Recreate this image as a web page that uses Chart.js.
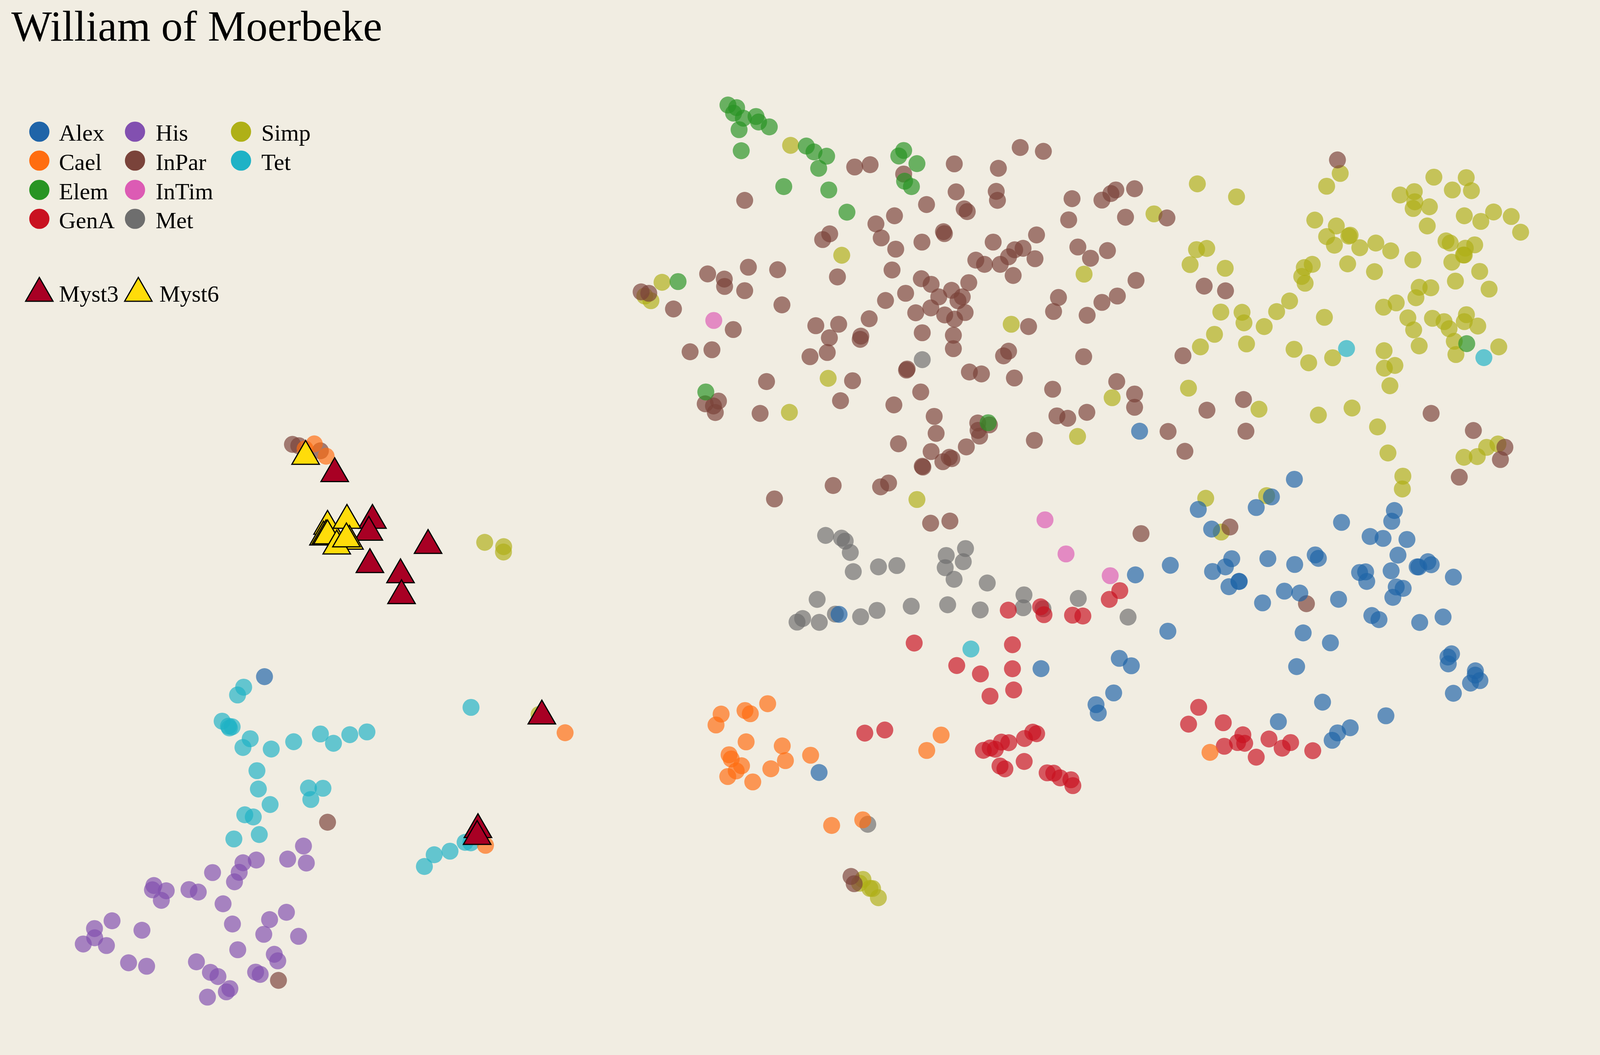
<!DOCTYPE html>
<html>
<head>
<meta charset="utf-8">
<title>William of Moerbeke</title>
<script src="https://cdn.jsdelivr.net/npm/chart.js@4"></script>
<style>
  html, body { margin: 0; padding: 0; background: #f1ede2; overflow: hidden; }
  canvas { display: block; }
</style>
</head>
<body>
<canvas id="chart"></canvas>
<script>
'use strict';

const Alex = [[1116.8,360.5],[1268.5,400.7],[1174.3,425.9],[1246,415.4],[1231.1,424.3],[1187.4,442.3],[1314.7,436.7],[1366.5,426.8],[1363.9,435.8],[1342.7,448.5],[1355.4,450.1],[1378.8,451],[1370,464.1],[1146.9,472.6],[1207.1,467.1],[1200.9,473.9],[1188.3,477.8],[1242.5,467],[1268.8,471.9],[1288.9,463.9],[1292,466.8],[1214.1,486.1],[1214.5,486.1],[1204.4,490.5],[1237.3,504],[1258.7,494.2],[1273.8,495.8],[1311.8,501],[1332.4,478.6],[1338.3,478.1],[1339.4,486.1],[1363.3,477.2],[1368.3,490.7],[1375.1,491.9],[1365,499.4],[1388.8,473.9],[1390.4,474],[1399.3,469.6],[1402.6,472.1],[1424.3,482.5],[1344.4,514.6],[1351.4,518],[1391.3,520.4],[1414.2,515.8],[1144.5,527.7],[1277.1,529.1],[1303.8,537.4],[1422.5,546.6],[1419,549.3],[1419.3,555],[1270.7,557.3],[1445.9,560.8],[1445.7,564.4],[1450.3,569],[1441.1,571.1],[1424.3,579.6],[1296.1,587],[1358.2,598.4],[1252.8,603.3],[1323.2,608.4],[1310.8,612.7],[1305.5,618.9],[1112.7,480.6],[1096.9,550.4],[1108.7,556.6],[1020.2,559],[1091.4,579.3],[1074.1,589.1],[1076.3,596.1],[802.7,645.8],[822.3,513.6],[259.2,565.7]];
const Cael = [[308,371.1],[319.6,381.4],[299,375.3],[752.3,588.3],[730.1,594],[735.3,596.7],[706.7,597],[701.7,606.1],[731.2,620.2],[766.6,623.6],[769.7,635.9],[794.4,631.4],[714.5,631],[716.6,634.5],[726.7,640.2],[721.5,644.5],[713.2,649.2],[737.7,653.7],[755.4,642.7],[815,690.1],[845.5,685.4],[922.3,614.5],[908.2,627.4],[1185.8,629],[553.8,612.6],[475.8,706.7]];
const Elem = [[713.4,87.8],[721.9,90],[718.9,94.6],[728.5,98.8],[740.9,97.4],[743.4,102],[753.9,106.1],[724.3,108.4],[726.4,126],[790.2,122.1],[797.7,127],[810.1,130.6],[802.3,140.7],[768.1,156],[812.2,158.8],[830,177.4],[885.6,125.8],[880.8,130.4],[898.6,136.8],[886.5,151.5],[893.2,156],[664.5,235.4],[691.7,327.7],[968.4,353.4],[1437.4,287.3]];
const GenA = [[988.1,510.1],[1019.8,507.3],[1023.1,513.9],[1051.1,514.3],[1061.2,515],[1087.1,501.1],[1097.4,493.8],[895.9,537.6],[992.2,539],[937.6,556.4],[960.8,563.4],[992.2,559.1],[993.4,576.8],[970.2,582],[847.5,612.9],[867.1,610.3],[963.7,627.3],[970.4,625.3],[975.4,626.4],[981.4,620.4],[988.6,620.9],[1004,617.4],[1012.1,612.1],[1015.9,613.4],[980,640.4],[984.8,642.8],[1003.7,636.6],[1026.2,646.1],[1032.7,646.4],[1038.9,650.3],[1049.5,651.9],[1051.4,656.8],[1174.7,591.3],[1164.8,605.4],[1198.8,604.2],[1199.8,623.9],[1212.8,620.8],[1218,614.3],[1219.8,621.4],[1231.1,633],[1243.6,617.8],[1256.5,625.5],[1264.8,620.8],[1286.5,627.6]];
const His = [[297.4,707.3],[281.9,718.2],[300.2,721.5],[251.2,719],[238.1,721.3],[234.4,729.3],[229.8,737.2],[208.3,729.5],[150.8,740.3],[149.4,743.9],[162.9,744.7],[158.1,752.7],[185.2,743.7],[194.3,745.8],[218.6,755.6],[227.8,772.5],[280.7,762.7],[264.2,768.8],[258.5,781.1],[292.6,782.8],[139.1,777.7],[109.8,769.8],[92.6,776.3],[92.8,784],[81.6,789.2],[104.3,790.5],[126,804.9],[143.7,807.8],[192.5,804.1],[206.2,812.9],[213.6,816.4],[233,794],[268.8,797.8],[272.2,803.3],[250.5,812.7],[255,814.6],[225.3,826.5],[221.8,829.2],[203.3,833.6]];
const InPar = [[999.8,123.3],[1022.5,126.5],[837.6,139.6],[852.7,137.7],[935.2,137],[978.4,140.7],[885.6,145.5],[729.8,167.5],[937,160.4],[976.3,160],[977.5,167.5],[1050.6,166.1],[1079.9,167.3],[1088.7,161.8],[1093.5,158.8],[908,171],[944.9,174.6],[947.9,176.9],[876.6,180.4],[858.4,187.2],[1047.3,183.8],[813.1,195.5],[806.2,200.3],[863.6,198.9],[877.8,208.3],[903.5,202.4],[924.6,193.7],[925.5,195.3],[973.3,202.4],[1015.8,196.4],[1056.3,206.5],[1068.7,215.9],[1085.3,209.5],[1002.6,207.6],[994.4,208.8],[988.4,214.7],[980.2,221],[964.8,221],[956.3,217.5],[1014.3,216.3],[693.5,229],[709.8,233.3],[710.1,239.5],[733.4,223.4],[762.1,225.5],[729.8,243],[820.7,231.5],[874.2,225.7],[902.9,233],[912.5,237.7],[920,248.2],[932.5,242.7],[949.4,236.3],[943,248.2],[938.8,251.4],[945.8,261.3],[912.2,257.4],[897.4,261.5],[925.8,263.3],[935.5,266.8],[903.8,278.2],[934.3,280.3],[934.3,291.5],[887.5,245.2],[867.8,251.2],[992.9,230.3],[1037.3,248.7],[1079.9,252.8],[1095,247.5],[660,258.3],[628.3,244],[635.8,245.2],[766.3,254.9],[851.8,266.5],[1032.5,260.4],[1065.4,263.6],[1008,273],[799.5,272.3],[821.9,271.1],[843.6,281],[843,283.7],[718.6,275.5],[676.3,294.1],[697.7,292.4],[793.8,298.2],[812.8,282.4],[810.7,294.7],[988.4,293.6],[983.5,297.5],[1062,298.2],[889,308.5],[888.4,309.4],[950,311],[961.8,312.6],[994.1,316],[751.2,319],[835.5,318.3],[1031.6,325.4],[1094.4,319],[902.3,327.7],[823.7,335],[876,338.5],[691.1,337.6],[704.1,335.3],[699.2,339.4],[701,344.9],[744.9,345.6],[915.5,348.1],[958.2,353.6],[958.5,359.8],[960,364.6],[969.6,355.2],[917.4,362.3],[1035.8,347.7],[1046.4,349.7],[1065.1,344.7],[1013.7,368.1],[880.5,371],[912.5,377.5],[947,373.6],[924,386],[930.3,382.3],[932.8,383.4],[903.8,389.8],[904.4,390.5],[816.5,405.9],[863,407],[870.8,403.8],[759,417.1],[1310.7,133.7],[1111.9,157.8],[1103,181.6],[1143.6,182.2],[1113.3,234.4],[1180.1,239.2],[1201,243.1],[1159.3,297.4],[1111.9,329.4],[1111.9,340.5],[1182.8,342.9],[1218.6,334],[1221,360.5],[1144.7,360.7],[1161.2,377.3],[1402.5,345.6],[1443.9,359.9],[1474.8,373.9],[1470.4,384.2],[1430.1,398.9],[912,437.4],[930.9,435.6],[1118.2,446.1],[1205.3,440.6],[1280.3,504.7],[321,687.4],[272.9,819.6],[286.6,371.5],[292.8,372.6],[314,376.9],[834,732.7],[837.1,738.8]];
const InTim = [[699.5,267.9],[1024.1,434.6],[1044.7,463.1],[1088,481.3]];
const Met = [[903.8,300.7],[809.1,447.6],[824.7,449.9],[828.3,452.4],[833.3,461.9],[836.2,477.9],[860.9,473.9],[878.9,472.8],[927.3,464.4],[946.2,458.6],[944,469.6],[926.3,474.6],[935,484.3],[967.5,487.4],[800.8,501.1],[786.6,517.1],[781.1,520.1],[802.9,520.3],[818.7,513.4],[843.4,515.6],[859.5,510.3],[893,506.8],[928.7,505.6],[960.6,509.9],[1003.5,497.3],[1002.7,508.1],[1022.1,508.9],[1056.7,500.3],[1105.5,515.9],[850.4,689.1]];
const Simp = [[1173.4,153.7],[1211.8,164.6],[1130.9,178.8],[1313.4,145],[1300.1,155.7],[1405.2,148.1],[1436.9,148.5],[1423.3,158.8],[1442,159.4],[1372.1,163],[1386,160.2],[1386.5,168.7],[1384.9,174.3],[1400.8,172.9],[1398.7,188.9],[1288.5,184],[1309.6,188.9],[1300.1,197.8],[1307.7,205],[1321.8,197.4],[1323.1,196.6],[1332.6,207.1],[1348.3,203.2],[1362.9,209.7],[1320.7,220.6],[1347,227.1],[1384.6,217.2],[1435,180.4],[1451.2,185.1],[1463.7,177.2],[1481,181],[1490.2,194.1],[1417.1,201.4],[1421.2,203.2],[1445.2,204.7],[1436,207.5],[1435,213.2],[1434.2,213.2],[1422.8,219.2],[1450.1,226.9],[1426.3,235],[1459.3,241.7],[1172.6,208.7],[1182.6,207.7],[1166.3,221.2],[1200.7,224.3],[1286,221],[1278.2,223.7],[1275.7,231.1],[1279,236.8],[1263.8,251.6],[1251.1,260.5],[1238.9,273],[1297.9,265.3],[1196.4,260.9],[1217.2,261.1],[1219.1,269.9],[1190.2,279.5],[1176.4,290],[1221.6,287.5],[1268.2,292],[1282.5,303.3],[1306,299.1],[1390.8,240.2],[1402.2,240.6],[1387.6,248.9],[1355.9,256.8],[1368.3,253.2],[1379.7,265.7],[1385.4,275.8],[1390.8,289.2],[1403.8,266.1],[1415.2,268.9],[1420.1,274.8],[1425.2,285.3],[1426.8,296.4],[1437.1,263.1],[1435,268.9],[1448.2,272.6],[1468.8,290],[1356.4,293.2],[1367,305.5],[1356.7,307.8],[1362.1,322.5],[1164.7,324.5],[1233.8,342.1],[1292,347],[1325,341.1],[1350,356.9],[1360.2,378.7],[1374.8,398.1],[1374.3,408.8],[1434.7,382.3],[1447.7,381.7],[1456.9,374],[1468,371.2],[1241.3,414.4],[1181.6,416.6],[1196.8,444.8],[774.8,121.5],[824.9,213.4],[648.8,236],[631.9,247.5],[637.9,251.4],[1062.4,229.2],[991,271.1],[811.6,316.3],[773.6,344.7],[1056,364.9],[1089.9,332.5],[898.6,417.6],[475,453.4],[493.6,457],[493.4,461.5],[845.7,735.2],[842.4,738.4],[852.5,742.7],[855.1,742.8],[860.8,750.5],[528.3,597.3]];
const Tet = [[1319.6,291.4],[1454.2,299],[951.5,542.6],[461.6,591.4],[238.8,574.5],[232.8,581],[217.7,602.9],[223.9,607.1],[224.8,608.6],[227.5,607.6],[245.2,617.6],[238.1,624.9],[265.8,626.2],[287.8,620.1],[314,613.6],[326.8,621.4],[342.8,614.2],[359.6,611.9],[251.8,644.3],[253.2,659.6],[302.3,658.8],[316.5,659],[304.6,668.4],[264.7,672.6],[239.9,681.2],[248.2,683],[254.1,697.7],[229.2,701.4],[415.9,724.4],[425.5,714.6],[441,711.6],[455.8,704.2],[461.4,704.6]];
const Myst3 = [[328,396],[365,435],[361.5,445],[419.5,456],[362.5,472],[392.5,480.5],[393.5,498],[531,598.6],[468.4,693.6],[467.6,699.3]];
const Myst6 = [[299.5,381.5],[321,440],[340,435],[317,449],[319.5,448],[321,448],[342.5,452.5],[330,456.5],[339.5,450.5]];

const workNames = ['Alex', 'Cael', 'Elem', 'GenA', 'His', 'InPar', 'InTim', 'Met', 'Simp', 'Tet'];
const workValues = [Alex, Cael, Elem, GenA, His, InPar, InTim, Met, Simp, Tet];
const workColors = ['#1f64a8', '#ff6d10', '#289423', '#c91220', '#8250b0', '#7a433a', '#dc5bb4', '#6e6e6e', '#afb017', '#1fb2c6'];
const mystNames = ['Myst3', 'Myst6'];
const mystValues = [Myst3, Myst6];
const mystColors = ['#a80024', '#ffdc0a'];

const FONT = '"Liberation Serif", serif';

// the browser may give a narrower window than 4800x2700, so size everything from what we got
const W = window.innerWidth;
const H = window.innerHeight;
const sx = W / 4800;
const sy = H / 2700;
const sm = Math.sqrt(sx * sy);

const TITLE_SIZE = 129 * sx;
const TITLE_TOP = 112 * sy - 0.8375 * TITLE_SIZE;
const LEFT_PAD = 34 * sx;

function toPoints(rows) {
  return rows.map(r => ({ x: r[0], y: r[1] }));
}

function withAlpha(hex, a) {
  const n = parseInt(hex.slice(1), 16);
  return `rgba(${n >> 16}, ${(n >> 8) & 255}, ${n & 255}, ${a})`;
}

const datasets = [];
workNames.forEach((name, i) => {
  datasets.push({
    label: name,
    data: toPoints(workValues[i]),
    backgroundColor: withAlpha(workColors[i], 0.68),
    borderWidth: 0,
    pointRadius: 23.5 * sm,
    pointHoverRadius: 23.5 * sm,
    order: 10 + i,
  });
});
mystNames.forEach((name, i) => {
  datasets.push({
    label: name,
    data: toPoints(mystValues[i]),
    backgroundColor: mystColors[i],
    borderColor: '#000',
    borderWidth: 3,
    pointStyle: 'triangle',
    pointRadius: 44 * sm,
    pointHoverRadius: 44 * sm,
    order: 2 - i,
  });
});

// the two legend blocks are laid out by hand, the built in legend can't split them
const keyPlugin = {
  id: 'keyPlugin',
  afterDraw(chart) {
    const ctx = chart.ctx;
    const dotX = [118, 405, 723];
    const textX = [177, 467, 784];
    const dotY = [337, 411, 486, 560];
    const baseY = [360, 435, 510, 584];
    ctx.save();
    ctx.font = (70 * sx) + 'px ' + FONT;
    ctx.textBaseline = 'alphabetic';
    ctx.textAlign = 'left';
    workNames.forEach((name, i) => {
      const col = Math.floor(i / 4);
      const row = i % 4;
      ctx.fillStyle = workColors[i];
      ctx.beginPath();
      ctx.arc(dotX[col] * sx, dotY[row] * sy, 28 * sm, 0, Math.PI * 2);
      ctx.fill();
      ctx.fillStyle = '#000';
      ctx.fillText(name, textX[col] * sx, baseY[row] * sy);
    });

    const triX = [118, 415];
    const mystTextX = [177, 478];
    mystNames.forEach((name, i) => {
      const cx = triX[i] * sx;
      const base = 771 * sy;
      ctx.fillStyle = mystColors[i];
      ctx.strokeStyle = '#000';
      ctx.lineWidth = 3;
      ctx.beginPath();
      ctx.moveTo(cx, base - 66 * sm);
      ctx.lineTo(cx + 38 * sm, base);
      ctx.lineTo(cx - 38 * sm, base);
      ctx.closePath();
      ctx.fill();
      ctx.stroke();
      ctx.fillStyle = '#000';
      ctx.fillText(name, mystTextX[i] * sx, 772 * sy);
    });
    ctx.restore();
  },
};

const canvas = document.getElementById('chart');
canvas.width = W;
canvas.height = H;

new Chart(canvas.getContext('2d'), {
  type: 'scatter',
  data: { datasets },
  plugins: [keyPlugin],
  options: {
    responsive: false,
    animation: false,
    layout: { autoPadding: false, padding: { left: LEFT_PAD, right: 0, top: 0, bottom: 0 } },
    plugins: {
      legend: { display: false },
      tooltip: { enabled: false },
      title: {
        display: true,
        text: 'William of Moerbeke',
        align: 'start',
        color: '#000',
        font: { family: FONT, size: TITLE_SIZE, weight: 'normal', lineHeight: 1 },
        padding: { top: TITLE_TOP, bottom: 0 },
      },
    },
    scales: {
      x: { type: 'linear', display: false, min: LEFT_PAD * 1568 / W, max: 1568 },
      y: { type: 'linear', display: false, reverse: true, min: (TITLE_SIZE + TITLE_TOP) * 882 / H, max: 882 },
    },
  },
});
</script>
</body>
</html>
